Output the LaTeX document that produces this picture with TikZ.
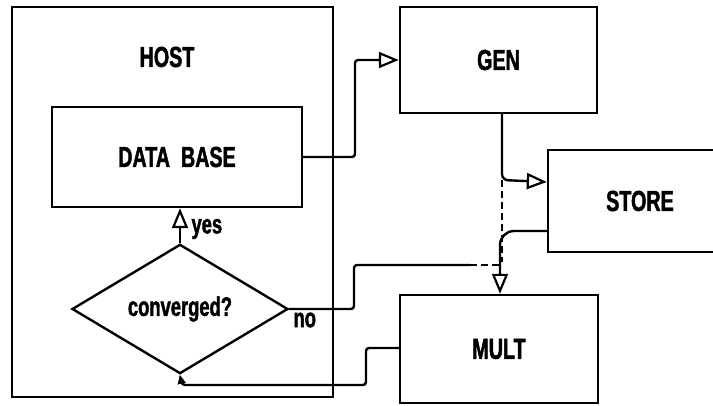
\documentclass[tikz,border=0pt]{standalone}
\usepackage{fontspec}
\setmainfont[FakeStretch=0.68,BoldFeatures={FakeBold=1.5}]{Liberation Sans}
\usetikzlibrary{shapes.geometric,arrows.meta}
\begin{document}
\begin{tikzpicture}[x=1pt,y=-1pt,
  lw/.style={line width=2.4pt},
  box/.style={draw,lw,inner sep=0pt},
  lbl/.style={font=\fontsize{29}{32}\selectfont\bfseries},
  slbl/.style={font=\fontsize{27}{30}\selectfont\bfseries},
  conn/.style={lw,rounded corners=3pt},
  dsh/.style={lw,dash pattern=on 7pt off 4pt},
  arr/.style={conn,-{Triangle[open,length=20pt,width=16pt,line width=2.2pt]}},
  sarr/.style={conn,-{Triangle[open,length=9pt,width=8pt,line width=2pt]}}]
\useasboundingbox (0,0) rectangle (713,406);
% boxes
\node[box,minimum width=321pt,minimum height=390pt] (host) at (172.5,202) {};
\node[lbl] (hostlbl) at (167,57) {HOST};
\node[box,lbl,minimum width=250pt,minimum height=100pt] (db) at (177,157) {DATA\ \ BASE};
\node[draw,lw,shape=diamond,inner sep=0pt,minimum width=216pt,minimum height=128pt,slbl] (dia) at (180,309) {converged?};
\node[box,lbl,minimum width=197pt,minimum height=106pt] (gen) at (498.5,60) {GEN};
\node[box,lbl,minimum width=184pt,minimum height=102pt] (store) at (640,201) {STORE};
\node[box,lbl,minimum width=198pt,minimum height=108pt] (mult) at (499,349) {MULT};
\node[slbl,anchor=west] (yes) at (188,229) {yes};
\node[slbl,anchor=west] (no) at (290,320) {no};
% coordinates
\coordinate (genbot) at (502,113);
\coordinate (split) at (502,180);
\coordinate (dashend) at (502,262);
\coordinate (dashstart) at (470,265);
\coordinate (multin) at (500,265);
\coordinate (multleft) at (400,348);
% connectors
\draw[arr] (db.east) -- (db.east -| 355,0) |- (gen.west);
\draw[arr,rounded corners=6pt] (genbot) -- (split) -- ([yshift=19pt]store.west);
\draw[dsh] (split) -- (dashend);
\draw[arr,rounded corners=14pt] ([yshift=-30pt]store.west) -- (500,231) -- (mult.north -| 500,0);
\draw[conn] (dia.east) -- (dia.east -| 354,0) |- (dashstart);
\draw[dsh] (dashstart) -- (multin);
\draw[sarr] (multleft) -- (366,348) |- (182,385) -- (dia.south);
\draw[arr] (dia.north) -- (db.south -| dia.north);
\end{tikzpicture}
\end{document}
